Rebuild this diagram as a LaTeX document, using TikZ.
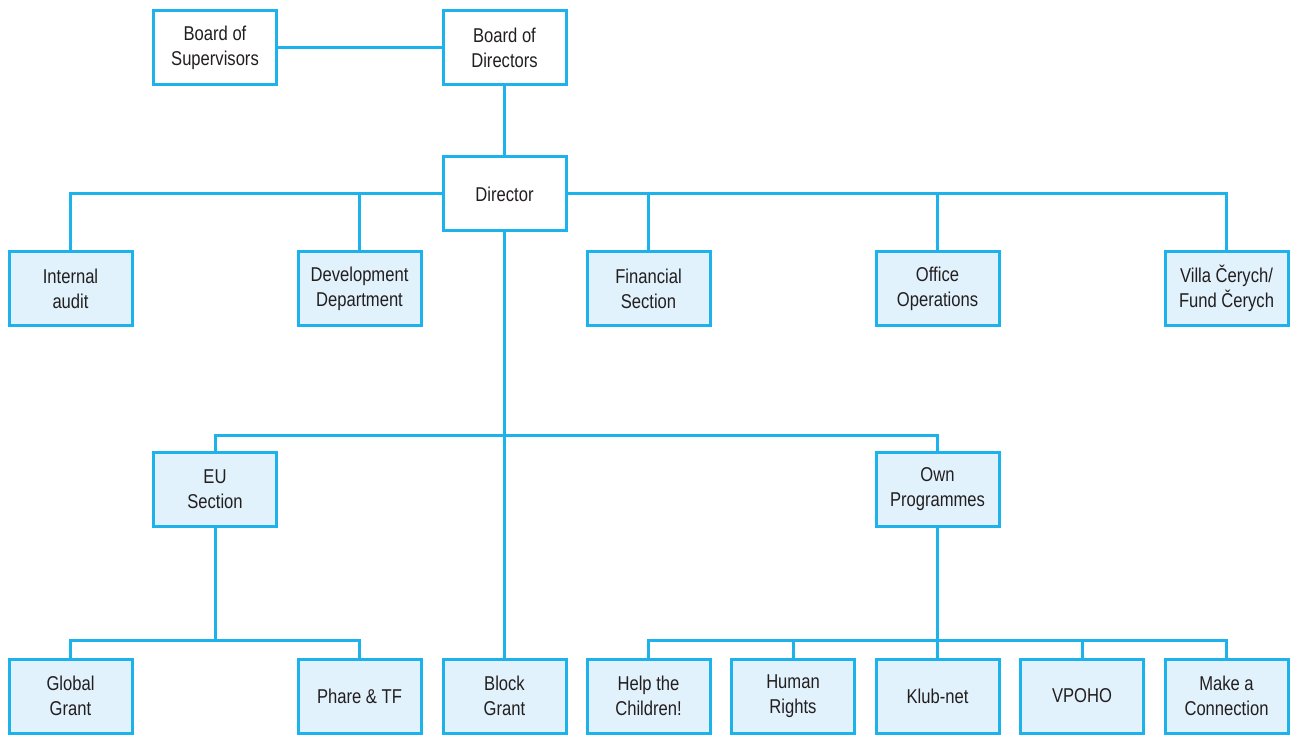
\documentclass[tikz,border=0pt]{standalone}
\usepackage{fontspec}
\setmainfont{Liberation Sans}[FakeStretch=0.83]
\definecolor{lineblue}{HTML}{1DB2EC}
\definecolor{fillblue}{HTML}{E1F2FC}
\definecolor{textgray}{HTML}{231F20}
\begin{document}
\begin{tikzpicture}[x=1pt,y=-1pt,
  box/.style={draw=lineblue, line width=3pt, minimum width=123pt, minimum height=74pt,
    align=center, font=\fontsize{20}{25}\selectfont, text=textgray, inner sep=0pt},
  wbox/.style={box, fill=white},
  bbox/.style={box, fill=fillblue},
  conn/.style={draw=lineblue, line width=3pt}]
\useasboundingbox (0,0) rectangle (1292,735);
% top
\node[wbox] (bos) at (215,48) {Board of\\Supervisors};
\node[wbox] (bod) at (504.5,48) {Board of\\Directors};
\node[wbox] (dir) at (504.5,194) {Director};
% second level
\node[bbox] (ia) at (70.5,288.5) {Internal\\audit};
\node[bbox] (dev) at (359.5,288.5) {Development\\Department};
\node[bbox] (fin) at (648.5,288.5) {Financial\\Section};
\node[bbox] (off) at (937.5,288.5) {Office\\Operations};
\node[bbox] (vil) at (1226.5,288.5) {Villa Čerych/\\Fund Čerych};
% third level
\node[bbox] (eu) at (215,489.5) {EU\\Section};
\node[bbox] (own) at (937.5,489.5) {Own\\Programmes};
% bottom
\node[bbox] (gg) at (70.5,696) {Global\\Grant};
\node[bbox] (ph) at (359.5,696) {Phare \& TF};
\node[bbox] (bg) at (504.5,696) {Block\\Grant};
\node[bbox] (hc) at (648.5,696) {Help the\\Children!};
\node[bbox] (hr) at (793,696) {Human\\Rights};
\node[bbox] (kn) at (937.5,696) {Klub-net};
\node[bbox] (vp) at (1082,696) {VPOHO};
\node[bbox] (mc) at (1226.5,696) {Make a\\Connection};
% connectors
\draw[conn] (bos.east) -- (bod.west);
\draw[conn] (bod.south) -- (dir.north);
\draw[conn] (dir.west) -| (ia.north);
\draw[conn] (dir.west) -| (dev.north);
\draw[conn] (dir.east) -| (fin.north);
\draw[conn] (dir.east) -| (off.north);
\draw[conn] (dir.east) -| (vil.north);
\draw[conn] (dir.south) -- (bg.north);
\coordinate (j1) at (504.5,435);
\draw[conn] (j1) -| (eu.north);
\draw[conn] (j1) -| (own.north);
\coordinate (j2) at (215,640);
\draw[conn] (eu.south) -- (j2);
\draw[conn] (j2) -| (gg.north);
\draw[conn] (j2) -| (ph.north);
\coordinate (j3) at (937.5,640);
\draw[conn] (own.south) -- (j3);
\draw[conn] (j3) -| (hc.north);
\draw[conn] (j3) -| (hr.north);
\draw[conn] (j3) -- (kn.north);
\draw[conn] (j3) -| (vp.north);
\draw[conn] (j3) -| (mc.north);
\end{tikzpicture}
\end{document}
